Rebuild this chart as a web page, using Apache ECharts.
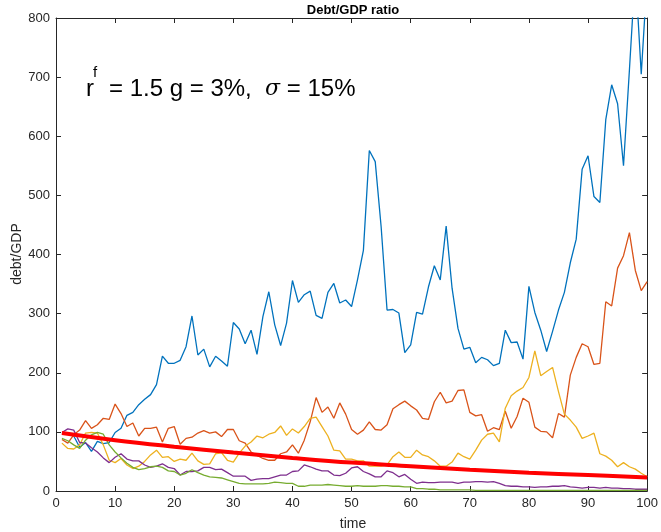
<!DOCTYPE html>
<html>
<head>
<meta charset="utf-8">
<script src="https://cdn.jsdelivr.net/npm/echarts@6/dist/echarts.min.js"></script>
<style>
html,body{margin:0;padding:0;background:#fff;}
#chart{width:661px;height:532px;}
</style>
</head>
<body>
<div id="chart"></div>
<script>
// time index 1..100
var timeSteps = [];
for (var k = 1; k <= 100; k++) timeSteps.push(k);

var pathBlue = [98,97,93,74,82,67,84,80,82,99,106,128,133,146,155,163,180,228,216,216,
  221,244,296,230,240,210,228,220,211,285,274,249,272,231,295,337,281,246,284,356,
  319,332,338,297,292,336,351,318,323,312,357,407,576,557,447,306,307,301,234,247,
  302,299,345,381,357,448,343,275,240,243,217,226,222,212,216,272,251,252,223,346,
  302,272,236,270,306,336,386,426,544,567,498,488,628,687,655,550,712,880,705,870];

var pathOrange = [87,81,95,103,119,106,112,123,121,147,131,109,115,93,106,106,108,83,106,109,
  79,89,91,98,102,98,100,92,104,104,85,81,66,60,55,52,52,63,66,78,
  64,86,117,158,133,142,123,149,130,104,96,103,117,104,103,112,139,146,152,144,
  137,123,121,151,167,149,152,170,171,133,127,129,101,107,104,135,106,126,157,150,
  108,101,100,90,131,125,196,226,249,244,214,216,320,313,377,398,437,373,339,354];

var pathYellow = [81,72,71,78,98,99,98,78,52,48,55,44,38,42,50,61,69,57,58,50,
  54,52,64,51,45,46,63,65,52,49,64,76,83,93,90,96,99,110,94,105,
  98,109,123,125,109,93,69,68,54,54,51,51,42,42,42,44,58,66,57,57,
  69,61,58,51,42,42,49,64,58,54,69,86,96,98,83,140,161,169,175,192,
  237,195,202,209,168,130,120,108,89,93,98,63,59,52,41,48,41,37,30,24];

var pathPurple = [99,105,103,82,81,73,66,56,48,57,63,54,51,51,44,40,42,46,40,38,
  27,33,33,34,40,40,36,37,31,25,25,25,18,20,21,21,24,27,27,33,
  34,44,41,37,34,34,27,26,30,39,41,33,29,24,24,34,31,24,28,20,
  13,15,14,14,15,15,15,13,15,15,16,16,15,16,13,9,8,8,7,7,
  6,7,7,8,8,9,7,6,5,6,6,5,6,5,5,4,4,3,3,3];

var pathGreen = [89,85,78,72,86,95,99,96,78,66,56,47,40,36,38,41,42,40,34,33,
  27,30,36,31,27,24,23,22,19,16,13,12,12,12,12,13,15,14,13,13,
  8,8,10,10,10,11,10,9,8,8,9,8,8,8,9,9,8,8,7,7,
  4,4,3,3,2,2,2,2,2,2,1,1,1,1,1,1,1,1,1,1,
  1,1,1,1,1,1,1,1,1,1,1,1,1,1,1,1,1,1,1,1];

// expected (deterministic) path, read at every 10 steps
var meanT = [1,10,20,30,40,50,60,70,80,90,100];
var meanPath = [98,86,75,65,56,48,42,36,31,27,23];

var xTicks = [0,10,20,30,40,50,60,70,80,90,100];
var yTicks = [0,100,200,300,400,500,600,700,800];

function pairs(xs, ys){ return xs.map(function(x,i){ return [x, ys[i]]; }); }

var axisCol = '#262626';
var FONT = '"Liberation Sans", Arial, Helvetica, sans-serif';

function lineSeries(name, vals, color){
  return {
    name: name, type: 'line', data: pairs(timeSteps, vals),
    showSymbol: false, symbol: 'none', clip: true,
    lineStyle: {color: color, width: 1.3},
    itemStyle: {color: color},
    animation: false, z: 2
  };
}

var chart = echarts.init(document.getElementById('chart'), null, {renderer: 'canvas'});
chart.setOption({
  backgroundColor: '#ffffff',
  animation: false,
  grid: {left: 56, right: 11, top: 18, bottom: 41},
  xAxis: [{
    type: 'value', min: 0, max: 100, interval: 10, position: 'bottom',
    axisLine: {onZero: false, lineStyle: {color: axisCol, width: 1}},
    axisTick: {inside: true, length: 5, lineStyle: {color: axisCol}},
    axisLabel: {color: axisCol, fontSize: 13, margin: 6, fontFamily: FONT,
      formatter: function(v){ return xTicks.indexOf(v) >= 0 ? String(v) : ''; }},
    splitLine: {show: false}
  }, {
    type: 'value', min: 0, max: 100, interval: 10, position: 'top',
    axisLine: {onZero: false, lineStyle: {color: axisCol, width: 1}},
    axisTick: {inside: true, length: 5, lineStyle: {color: axisCol}},
    axisLabel: {show: false}, splitLine: {show: false}
  }],
  yAxis: [{
    type: 'value', min: 0, max: 800, interval: 100, position: 'left',
    axisLine: {show: true, onZero: false, lineStyle: {color: axisCol, width: 1}},
    axisTick: {show: true, inside: true, length: 5, lineStyle: {color: axisCol}},
    axisLabel: {color: axisCol, fontSize: 13, margin: 6, fontFamily: FONT,
      formatter: function(v){ return yTicks.indexOf(v) >= 0 ? String(v) : ''; }},
    splitLine: {show: false}
  }, {
    type: 'value', min: 0, max: 800, interval: 100, position: 'right',
    axisLine: {show: true, onZero: false, lineStyle: {color: axisCol, width: 1}},
    axisTick: {show: true, inside: true, length: 5, lineStyle: {color: axisCol}},
    axisLabel: {show: false}, splitLine: {show: false}
  }],
  graphic: [
    {type: 'text', x: 353, y: 10, style: {text: 'Debt/GDP ratio', font: 'bold 13px ' + FONT, fill: '#000', align: 'center', verticalAlign: 'middle'}},
    {type: 'text', x: 353, y: 524, style: {text: 'time', font: '14px ' + FONT, fill: axisCol, align: 'center', verticalAlign: 'middle'}},
    {type: 'text', x: 17, y: 254, rotation: Math.PI/2, style: {text: 'debt/GDP', font: '14px ' + FONT, fill: axisCol, align: 'center', verticalAlign: 'middle'}},
    {type: 'text', x: 86, y: 77, style: {text: 'r', font: '24px ' + FONT, fill: '#000', align: 'left', verticalAlign: 'top'}},
    {type: 'text', x: 93, y: 65, style: {text: 'f', font: '15px ' + FONT, fill: '#000', align: 'left', verticalAlign: 'top'}},
    {type: 'text', x: 109, y: 77, style: {
      text: '{n|= 1.5 g = 3%,  }{s|σ}{n| = 15%}',
      verticalAlign: 'top', align: 'left',
      rich: {
        n: {fontFamily: FONT, fontSize: 24, color: '#000'},
        s: {fontFamily: '"DejaVu Serif", serif', fontStyle: 'italic', fontSize: 22, color: '#000'}
      }
    }}
  ],
  series: [
    lineSeries('path1', pathBlue, '#0072BD'),
    lineSeries('path2', pathOrange, '#D95319'),
    lineSeries('path3', pathYellow, '#EDB120'),
    lineSeries('path4', pathPurple, '#7E2F8E'),
    lineSeries('path5', pathGreen, '#77AC30'),
    {
      name: 'mean', type: 'line', data: pairs(meanT, meanPath), smooth: 0.4,
      showSymbol: false, symbol: 'none', clip: true,
      lineStyle: {color: '#FF0000', width: 4}, animation: false, z: 3
    }
  ]
});
</script>
</body>
</html>
